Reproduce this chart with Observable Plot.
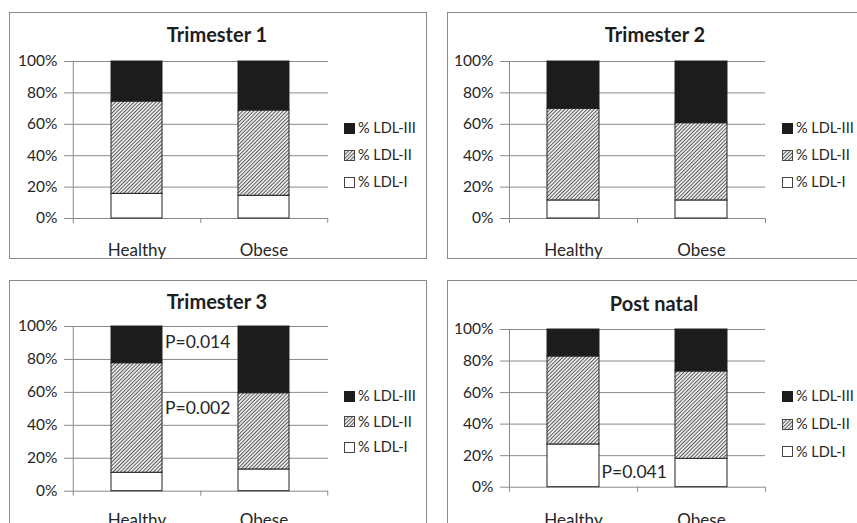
<!DOCTYPE html>
<html><head><meta charset="utf-8">
<script src="https://cdn.jsdelivr.net/npm/d3@7"></script>
<script src="https://cdn.jsdelivr.net/npm/@observablehq/plot@0.6"></script>
<style>
body{margin:0;background:#fff;width:857px;height:523px;overflow:hidden;position:relative;font-family:Lato,"Open Sans",sans-serif;color:#262626}
.box{position:absolute;border:1px solid #8a8a8a;box-sizing:border-box}
.title{position:absolute;font-weight:bold;font-size:20px;line-height:20px;white-space:nowrap;transform:translateX(-50%);color:#1e1e1e}
.leg{position:absolute;font-size:14.5px;line-height:16px;white-space:nowrap;display:flex;align-items:center;gap:3px}
.leg svg{display:block}
</style></head><body>
<svg width="0" height="0" style="position:absolute">
  <defs>
    <pattern id="hatch" patternUnits="userSpaceOnUse" width="2.6" height="2.6" patternTransform="rotate(45)">
      <rect width="2.6" height="2.6" fill="#fff"/>
      <line x1="1.3" y1="0" x2="1.3" y2="2.6" stroke="#555" stroke-width="1.1"/>
    </pattern>
  </defs>
</svg>
<script>
// ---- data ----
const panels = ["Trimester 1", "Trimester 2", "Trimester 3", "Post natal"];
const groups = ["Healthy", "Obese"];
const series = ["% LDL-I", "% LDL-II", "% LDL-III"];
// per panel: [Healthy, Obese]
const ldlI   = [[15.7, 14.5], [11.5, 11.5], [11.2, 13.2], [27.1, 18.0]];
const ldlII  = [[58.8, 54.3], [58.4, 49.2], [66.5, 46.3], [55.8, 55.4]];
const ldlIII = [[25.5, 31.2], [30.1, 39.3], [22.3, 40.5], [17.1, 26.6]];
const yTicks = [0, 20, 40, 60, 80, 100];
const pLabels = ["P=0.014", "P=0.002", "P=0.041"];
const pPanel  = [2, 2, 3];
const pLevel  = [90.3, 50.4, 9.5];

// ---- layout (page pixels) ----
const layout = [
  {bx: 9,   by: 12,  bw: 418, bh: 247, w: 418, h: 247, mL: 64, mR: 99, mT: 49, mB: 41,   tx: 217, ty: 24,  lx: 344, ly: [128, 155, 182], labPad: 25},
  {bx: 447, by: 12,  bw: 430, bh: 247, w: 410, h: 247, mL: 62, mR: 92, mT: 49, mB: 41,   tx: 655, ty: 24,  lx: 782, ly: [128, 155, 182], labPad: 25},
  {bx: 9,   by: 280, bw: 418, bh: 260, w: 418, h: 243, mL: 64, mR: 99, mT: 46, mB: 32.3, tx: 217, ty: 290.5, lx: 344, ly: [396, 421.7, 447], labPad: 23},
  {bx: 447, by: 280, bw: 430, bh: 260, w: 410, h: 243, mL: 62, mR: 92, mT: 49, mB: 36.3, tx: 654, ty: 293, lx: 782, ly: [396, 424, 451.7], labPad: 27}
];
const seriesData = [ldlI, ldlII, ldlIII];
const fillRange = ["#ffffff", "url(#hatch)", "#1c1c1c"];
const gridColor = "#8a8a8a";

panels.forEach((name, p) => {
  const L = layout[p];
  const box = document.createElement("div");
  box.className = "box";
  Object.assign(box.style, {left: L.bx + "px", top: L.by + "px", width: L.bw + "px", height: L.bh + "px"});
  document.body.appendChild(box);

  const rows = [];
  groups.forEach((g, gi) => series.forEach((s, si) => rows.push({group: g, series: s, value: seriesData[si][p][gi]})));
  const fw = L.w - L.mL - L.mR;
  const step = fw / 2;
  const ann = pLabels.map((t, i) => ({text: t, panel: pPanel[i], level: pLevel[i]})).filter(d => d.panel === p);

  const chart = Plot.plot({
    width: L.w, height: L.h,
    marginLeft: L.mL, marginRight: L.mR, marginTop: L.mT, marginBottom: L.mB,
    style: {fontFamily: "Lato, 'Open Sans', sans-serif", fontSize: "15px", color: "#262626", background: "transparent", overflow: "visible"},
    x: {domain: groups, paddingInner: 0.595, paddingOuter: 0.2975, label: null},
    y: {domain: [0, 100], label: null},
    color: {domain: series, range: fillRange},
    marks: [
      Plot.gridY(yTicks, {stroke: gridColor, strokeOpacity: 1, strokeWidth: 1}),
      Plot.axisY(yTicks, {tickFormat: d => d + "%", tickSize: 9, tickPadding: 7, stroke: gridColor, fill: "#262626", fontSize: 15.5, label: null}),
      Plot.axisX({tickSize: 0, tickPadding: L.labPad, fontSize: 17, fill: "#262626", label: null}),
      Plot.ruleX([groups[0]], {dx: -step / 2, y1: 100, y2: 0, insetBottom: -5, stroke: gridColor}),
      Plot.ruleX(groups, {dx: step / 2, y1: 0, y2: 0, insetBottom: -5, stroke: gridColor}),
      Plot.barY(rows, {x: "group", y: "value", fill: "series", stroke: "#222", strokeWidth: 1, order: series}),
      Plot.text(ann, {x: () => groups[0], y: "level", text: "text", dx: 28, textAnchor: "start", fontSize: 17.5, fill: "#262626"})
    ]
  });
  chart.style.position = "absolute";
  chart.style.left = L.bx + "px";
  chart.style.top = L.by + "px";
  document.body.appendChild(chart);

  const title = document.createElement("div");
  title.className = "title";
  title.textContent = name;
  title.style.left = L.tx + "px";
  title.style.top = L.ty + "px";
  document.body.appendChild(title);

  // legend: top row is LDL-III
  [...series].reverse().forEach((s, r) => {
    const si = series.indexOf(s);
    const row = document.createElement("div");
    row.className = "leg";
    row.style.left = L.lx + "px";
    row.style.top = (L.ly[r] - 8) + "px";
    const stroke = si === 2 ? "#1c1c1c" : "#444";
    row.innerHTML = `<svg width="11" height="11"><rect x="0.5" y="0.5" width="10" height="10" fill="${fillRange[si]}" stroke="${stroke}" stroke-width="1"/></svg><span>${s}</span>`;
    document.body.appendChild(row);
  });
});
</script>
</body></html>
